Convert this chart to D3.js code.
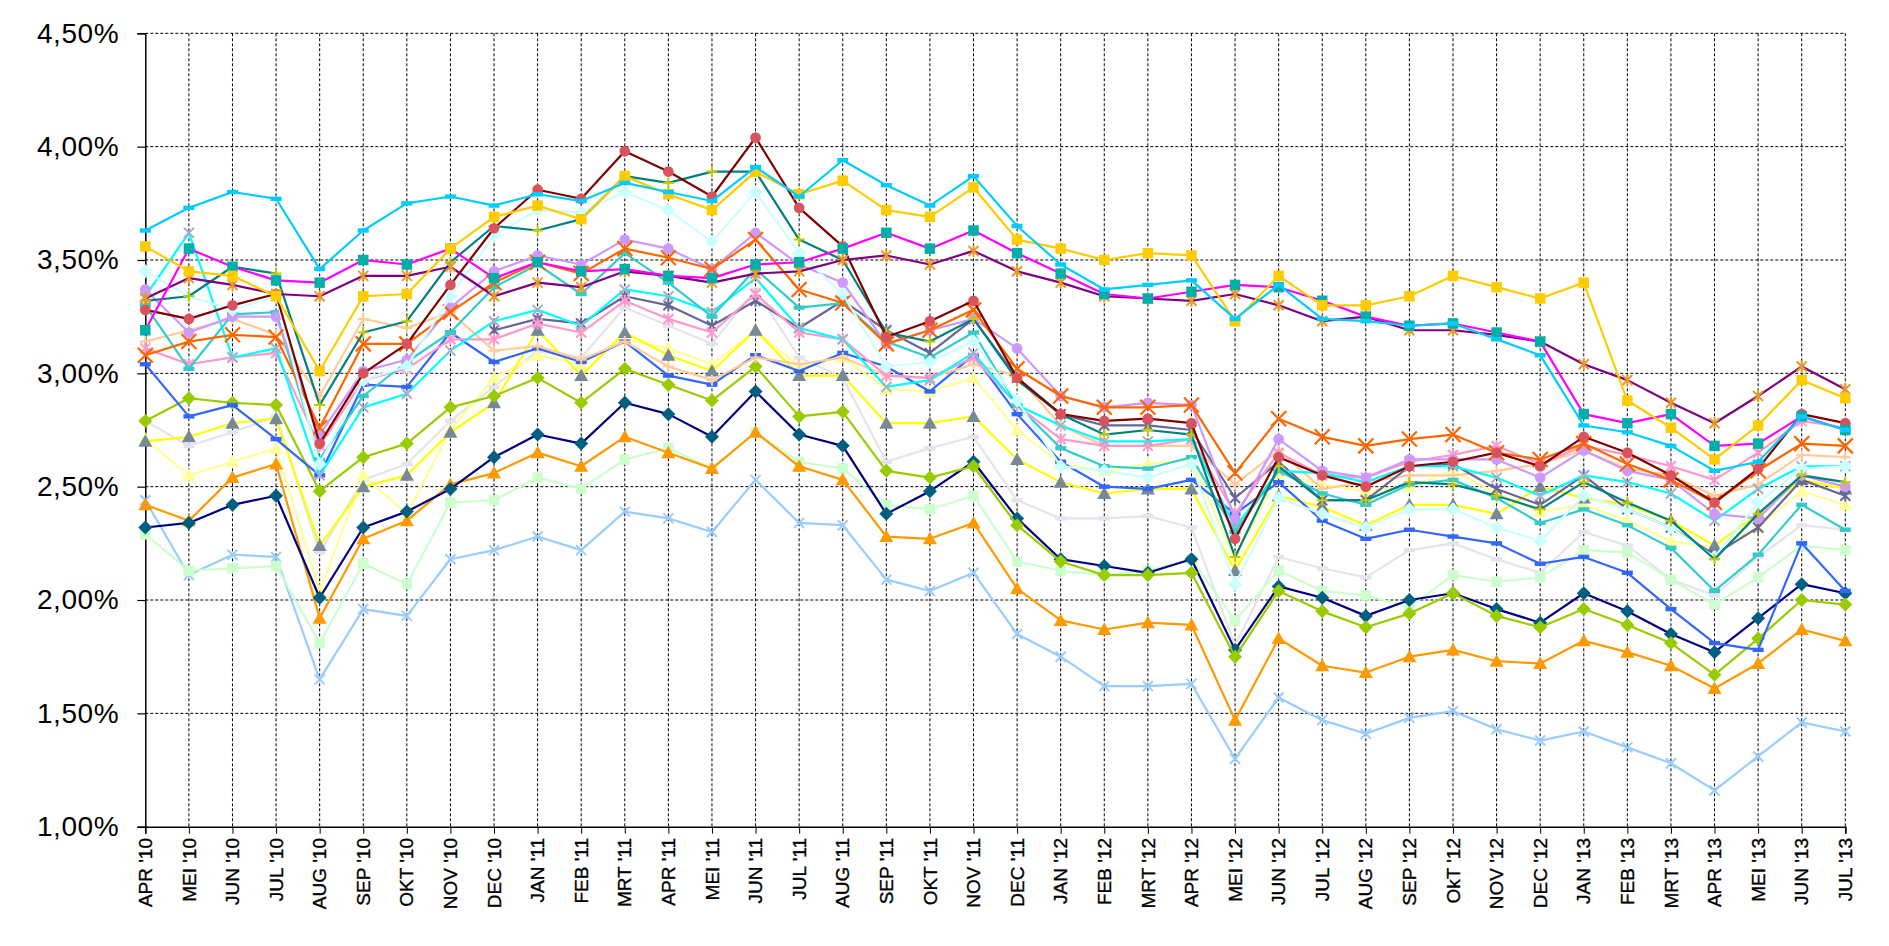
<!DOCTYPE html>
<html>
<head>
<meta charset="utf-8">
<script src="https://cdn.jsdelivr.net/npm/d3@7"></script>
<style>
  html, body { margin: 0; padding: 0; background: #fff; }
  svg { display: block; }
</style>
</head>
<body>
<svg id="chart" width="1889" height="946"></svg>
<script>
const categories = ["APR '10","MEI '10","JUN '10","JUL '10","AUG '10","SEP '10","OKT '10","NOV '10","DEC '10",
  "JAN '11","FEB '11","MRT '11","APR '11","MEI '11","JUN '11","JUL '11","AUG '11","SEP '11","OKT '11","NOV '11","DEC '11",
  "JAN '12","FEB '12","MRT '12","APR '12","MEI '12","JUN '12","JUL '12","AUG '12","SEP '12","OkT '12","NOV '12","DEC '12",
  "JAN '13","FEB '13","MRT '13","APR '13","MEI '13","JUN '13","JUL '13"];

const yTicks = [1.0, 1.5, 2.0, 2.5, 3.0, 3.5, 4.0, 4.5];

// series values (%), one array per series
const sV = [2.79,2.68,2.74,2.81,2.21,2.53,2.60,2.79,2.94,3.10,3.07,3.29,3.21,3.13,3.37,3.07,2.98,2.61,2.67,2.72,2.44,2.36,2.36,2.37,2.32,1.80,2.19,2.14,2.10,2.22,2.25,2.18,2.12,2.30,2.24,2.09,2.02,2.19,2.33,2.31];
const sU = [2.71,2.55,2.61,2.67,2.04,2.55,2.38,2.75,2.98,3.08,3.04,3.15,3.11,3.04,3.19,3.03,3.07,2.93,2.92,2.98,2.75,2.60,2.57,2.60,2.62,2.18,2.56,2.51,2.48,2.50,2.57,2.47,2.39,2.42,2.35,2.26,2.23,2.32,2.48,2.42];
const sT = [2.70,2.72,2.78,2.80,2.24,2.50,2.55,2.74,2.87,3.19,2.99,3.18,3.08,3.01,3.19,2.99,2.99,2.78,2.78,2.81,2.62,2.52,2.47,2.49,2.49,2.13,2.46,2.41,2.33,2.42,2.42,2.38,2.50,2.45,2.42,2.35,2.24,2.38,2.53,2.49];
const sS = [2.44,2.11,2.20,2.19,1.65,1.96,1.93,2.18,2.22,2.28,2.22,2.39,2.36,2.30,2.53,2.34,2.33,2.09,2.04,2.12,1.85,1.75,1.62,1.62,1.63,1.30,1.57,1.47,1.41,1.48,1.51,1.43,1.38,1.42,1.35,1.28,1.16,1.31,1.46,1.42];
const sR = [2.29,2.13,2.14,2.15,1.81,2.16,2.07,2.43,2.44,2.54,2.49,2.62,2.67,2.58,2.74,2.61,2.58,2.42,2.40,2.46,2.17,2.13,2.11,2.13,2.18,1.91,2.13,2.04,2.02,1.97,2.11,2.08,2.10,2.22,2.21,2.09,1.98,2.10,2.24,2.22];
const sQ = [2.42,2.35,2.54,2.60,1.92,2.27,2.35,2.51,2.56,2.65,2.59,2.72,2.65,2.58,2.74,2.59,2.53,2.28,2.27,2.34,2.05,1.91,1.87,1.90,1.89,1.47,1.83,1.71,1.68,1.75,1.78,1.73,1.72,1.82,1.77,1.71,1.61,1.72,1.87,1.82];
const sP = [2.32,2.34,2.42,2.46,2.01,2.32,2.39,2.49,2.63,2.73,2.69,2.87,2.82,2.72,2.92,2.73,2.68,2.38,2.48,2.61,2.36,2.18,2.15,2.12,2.18,1.78,2.06,2.01,1.93,2.00,2.03,1.96,1.90,2.03,1.95,1.85,1.77,1.92,2.07,2.03];
const sO = [2.79,2.89,2.87,2.86,2.48,2.63,2.69,2.85,2.90,2.98,2.87,3.02,2.95,2.88,3.03,2.81,2.83,2.57,2.54,2.59,2.33,2.17,2.11,2.11,2.12,1.75,2.04,1.95,1.88,1.94,2.03,1.93,1.88,1.96,1.89,1.81,1.67,1.83,2.00,1.98];
const sN = [3.04,2.81,2.86,2.71,2.55,2.95,2.94,3.18,3.05,3.11,3.05,3.14,2.99,2.95,3.08,3.01,3.09,3.03,2.92,3.08,2.82,2.61,2.50,2.49,2.53,2.38,2.52,2.35,2.27,2.31,2.28,2.25,2.16,2.19,2.12,1.96,1.81,1.78,2.25,2.04];
const sM = [3.14,3.19,3.24,3.17,2.90,3.24,3.20,3.27,3.10,3.12,3.06,3.14,3.03,2.97,3.07,3.04,3.07,2.99,2.98,3.04,2.99,2.77,2.68,2.68,2.68,2.51,2.66,2.49,2.52,2.55,2.55,2.57,2.60,2.66,2.58,2.55,2.46,2.51,2.64,2.63];
const sL = [null,null,null,null,null,null,null,null,3.19,3.24,3.22,3.34,3.30,3.21,3.32,3.20,3.32,3.19,3.09,3.24,2.98,2.82,2.77,2.77,2.75,2.45,2.61,2.44,2.44,2.59,2.60,2.49,2.42,2.55,2.40,2.32,2.20,2.32,2.53,2.46];
const sK = [3.11,3.04,3.07,3.09,2.68,2.97,3.02,3.15,3.15,3.22,3.18,3.32,3.24,3.18,3.35,3.18,3.15,2.99,2.98,3.07,2.86,2.71,2.68,2.68,2.71,2.38,2.65,2.55,2.54,2.61,2.64,2.68,2.60,2.68,2.64,2.59,2.53,2.65,2.79,2.76];
const sJ = [3.34,3.62,3.07,3.11,2.55,2.85,2.91,3.10,3.23,3.28,3.21,3.37,3.34,3.27,3.42,3.20,3.15,2.94,2.97,3.09,2.86,2.77,2.70,2.70,2.71,2.32,2.57,2.56,2.52,2.59,2.59,2.54,2.46,2.55,2.52,2.47,2.35,2.49,2.59,2.59];
const sW = [3.30,3.02,3.26,3.27,2.62,2.90,3.05,3.18,3.38,3.48,3.35,3.53,3.40,3.25,3.46,3.29,3.31,3.14,3.07,3.18,2.86,2.67,2.59,2.58,2.63,2.30,2.57,2.47,2.42,2.51,2.53,2.45,2.34,2.40,2.33,2.23,2.04,2.20,2.42,2.31];
const sI = [3.37,3.18,3.25,3.25,2.73,3.01,3.06,3.29,3.45,3.52,3.48,3.59,3.55,3.46,3.62,3.48,3.40,3.13,3.19,3.24,3.11,2.90,2.85,2.87,2.86,2.36,2.71,2.57,2.54,2.62,2.62,2.62,2.54,2.66,2.57,2.53,2.38,2.36,2.55,2.50];
const sH = [3.08,3.14,3.17,3.16,2.76,3.13,3.13,3.27,3.40,3.49,3.44,3.55,3.51,3.46,3.59,3.37,3.31,3.13,3.19,3.28,3.02,2.90,2.85,2.85,2.86,2.56,2.80,2.72,2.68,2.71,2.73,2.65,2.62,2.69,2.60,2.53,2.43,2.57,2.69,2.68];
const sG = [3.45,3.34,3.28,3.34,2.60,2.97,3.03,3.34,3.61,3.72,3.71,3.80,3.72,3.58,3.80,3.53,3.35,3.03,3.05,3.14,2.88,2.59,2.57,2.54,2.60,2.07,2.45,2.38,2.32,2.40,2.40,2.32,2.26,2.46,2.40,2.32,2.19,2.43,2.58,2.59];
const sF = [3.32,3.34,3.47,3.44,2.86,3.18,3.23,3.49,3.65,3.63,3.68,3.87,3.84,3.89,3.89,3.59,3.50,3.18,3.14,3.24,2.97,2.82,2.73,2.75,2.73,2.19,2.59,2.44,2.44,2.52,2.51,2.46,2.40,2.52,2.43,2.35,2.18,2.38,2.55,2.52];
const sE = [3.28,3.24,3.30,3.35,2.69,3.00,3.13,3.39,3.64,3.81,3.77,3.98,3.89,3.78,4.04,3.73,3.56,3.16,3.23,3.32,2.98,2.82,2.79,2.80,2.78,2.27,2.63,2.55,2.50,2.59,2.61,2.65,2.59,2.72,2.65,2.55,2.43,2.58,2.82,2.78];
const sD = [3.33,3.42,3.39,3.35,3.34,3.43,3.43,3.47,3.34,3.40,3.38,3.45,3.43,3.40,3.44,3.45,3.50,3.52,3.48,3.54,3.45,3.40,3.34,3.33,3.32,3.35,3.30,3.23,3.25,3.19,3.19,3.17,3.14,3.04,2.97,2.87,2.78,2.90,3.03,2.93];
const sC = [3.19,3.55,3.47,3.41,3.40,3.50,3.48,3.55,3.42,3.49,3.45,3.46,3.43,3.42,3.48,3.49,3.55,3.62,3.55,3.63,3.53,3.44,3.35,3.33,3.36,3.39,3.38,3.32,3.25,3.21,3.22,3.18,3.14,2.82,2.78,2.82,2.68,2.69,2.81,2.75];
const sB = [3.56,3.45,3.43,3.34,3.01,3.34,3.35,3.55,3.69,3.74,3.68,3.87,3.79,3.72,3.89,3.79,3.85,3.72,3.69,3.82,3.59,3.55,3.50,3.53,3.52,3.23,3.43,3.30,3.30,3.34,3.43,3.38,3.33,3.40,2.88,2.76,2.62,2.77,2.97,2.89];
const sA = [3.63,3.73,3.80,3.77,3.46,3.63,3.75,3.78,3.74,3.79,3.76,3.84,3.80,3.76,3.91,3.78,3.94,3.83,3.74,3.87,3.65,3.48,3.37,3.39,3.41,3.24,3.39,3.24,3.23,3.21,3.22,3.15,3.08,2.77,2.74,2.68,2.57,2.61,2.81,2.75];

// drawing order (first drawn at the back)
const series = [
  {v: sV, line: "#E4E4EC", mk: "#E4E4EC", shape: "dash"},
  {v: sU, line: "#FFFF99", mk: "#FFFF99", shape: "triangle"},
  {v: sT, line: "#FFFF00", mk: "#778899", shape: "triangle"},
  {v: sS, line: "#99CCFF", mk: "#99CCFF", shape: "x"},
  {v: sR, line: "#CCFFCC", mk: "#CCFFCC", shape: "square"},
  {v: sQ, line: "#FF9900", mk: "#FF9900", shape: "triangle"},
  {v: sP, line: "#000080", mk: "#005F7F", shape: "diamond"},
  {v: sO, line: "#99CC00", mk: "#99CC00", shape: "diamond"},
  {v: sN, line: "#3366FF", mk: "#3366FF", shape: "dash"},
  {v: sM, line: "#FFCC99", mk: "#FFCC99", shape: "plus"},
  {v: sL, line: "#666699", mk: "#666699", shape: "asterisk"},
  {v: sK, line: "#FF99CC", mk: "#FF99CC", shape: "asterisk"},
  {v: sJ, line: "#00FFFF", mk: "#A8B0C8", shape: "x"},
  {v: sW, line: "#33CCCC", mk: "#33CCCC", shape: "dash"},
  {v: sI, line: "#CC99FF", mk: "#CC99FF", shape: "circle"},
  {v: sH, line: "#FF6600", mk: "#FF6600", shape: "bigx"},
  {v: sG, line: "#CCFFFF", mk: "#CCFFFF", shape: "diamond"},
  {v: sF, line: "#008080", mk: "#C8C800", shape: "plus"},
  {v: sE, line: "#800000", mk: "#D9535F", shape: "circle"},
  {v: sD, line: "#800080", mk: "#E69A28", shape: "asterisk"},
  {v: sC, line: "#FF00FF", mk: "#00B0A8", shape: "square"},
  {v: sB, line: "#FFCC00", mk: "#FFCC00", shape: "square"},
  {v: sA, line: "#00CCFF", mk: "#00CCFF", shape: "dash"}
];

const svg = d3.select("#chart");
const plotL = 145.3, plotR = 1845.3, plotT = 33.3, plotB = 826.7;

const x = d3.scalePoint().domain(categories).range([plotL, plotR]).padding(0);
const y = d3.scaleLinear().domain([1.0, 4.5]).range([plotB, plotT]);

// gridlines
const grid = svg.append("g");
grid.selectAll("line.h").data(yTicks.filter(t => t > 1.0)).join("line")
  .attr("class", "h")
  .attr("x1", plotL).attr("x2", plotR).attr("y1", d => y(d)).attr("y2", d => y(d))
  .attr("stroke", "#000").attr("stroke-width", 1).attr("stroke-dasharray", "3,2");
grid.selectAll("line.v").data(categories.slice(1)).join("line")
  .attr("class", "v")
  .attr("x1", d => x(d)).attr("x2", d => x(d)).attr("y1", plotT).attr("y2", plotB)
  .attr("stroke", "#000").attr("stroke-width", 1).attr("stroke-dasharray", "3,2");

// axes
const yAxis = d3.axisLeft(y).tickValues(yTicks).tickSize(8).tickPadding(18)
  .tickFormat(d => d3.format(".2f")(d).replace(".", ",") + "%");
const gy = svg.append("g").attr("transform", `translate(${plotL},0)`).call(yAxis);
gy.select(".domain").attr("stroke", "#000").attr("stroke-width", 1.5);
gy.selectAll(".tick line").attr("stroke", "#000").attr("stroke-width", 1.2);
gy.selectAll(".tick text").attr("font-family", "Liberation Sans, Arial, sans-serif")
  .attr("font-size", 28).attr("letter-spacing", 0.6).attr("fill", "#000");

const xAxis = d3.axisBottom(x).tickSize(7).tickFormat("");
const gx = svg.append("g").attr("transform", `translate(0,${plotB})`).call(xAxis);
gx.select(".domain").attr("stroke", "#000").attr("stroke-width", 1.5);
gx.selectAll(".tick line").attr("stroke", "#000").attr("stroke-width", 1);

svg.append("g").selectAll("text").data(categories).join("text")
  .attr("transform", d => `translate(${x(d)},838) rotate(-90)`)
  .attr("text-anchor", "end").attr("dy", "0.35em")
  .attr("font-family", "Liberation Sans, Arial, sans-serif")
  .attr("font-size", 19).attr("fill", "#000")
  .attr("stroke", "#000").attr("stroke-width", 0.35)
  .text(d => d);

// marker paths
function markerPath(shape) {
  switch (shape) {
    case "square": return d3.symbol(d3.symbolSquare, 110)();
    case "circle": return d3.symbol(d3.symbolCircle, 90)();
    case "diamond": return "M0,-7L7,0L0,7L-7,0Z";
    case "triangle": return "M0,-7L7,5.5L-7,5.5Z";
    case "dash": return "M-5.5,-2.2H5.5V2.2H-5.5Z";
    case "plus": return "M-5.5,0H5.5M0,-5.5V5.5";
    case "x": return "M-5,-5L5,5M-5,5L5,-5";
    case "bigx": return "M-7.5,-7.5L7.5,7.5M-7.5,7.5L7.5,-7.5";
    case "asterisk": return "M-5,-5L5,5M-5,5L5,-5M0,-6V6";
  }
}
const stroked = new Set(["plus", "x", "bigx", "asterisk"]);

const line = d3.line()
  .defined(d => d.v != null)
  .x(d => x(d.c)).y(d => y(d.v));

const gs = svg.append("g");
series.forEach(s => {
  const pts = categories.map((c, i) => ({c, v: s.v[i]}));
  const g = gs.append("g");
  g.append("path").datum(pts).attr("d", line)
    .attr("fill", "none").attr("stroke", s.line).attr("stroke-width", 2.2)
    .attr("stroke-linejoin", "round");
  const p = markerPath(s.shape);
  g.selectAll("path.m").data(pts.filter(d => d.v != null)).join("path")
    .attr("class", "m")
    .attr("transform", d => `translate(${x(d.c)},${y(d.v)})`)
    .attr("d", p)
    .attr("fill", stroked.has(s.shape) ? "none" : s.mk)
    .attr("stroke", stroked.has(s.shape) ? s.mk : "none")
    .attr("stroke-width", s.shape === "bigx" ? 2.2 : 2);
});
</script>
</body>
</html>
